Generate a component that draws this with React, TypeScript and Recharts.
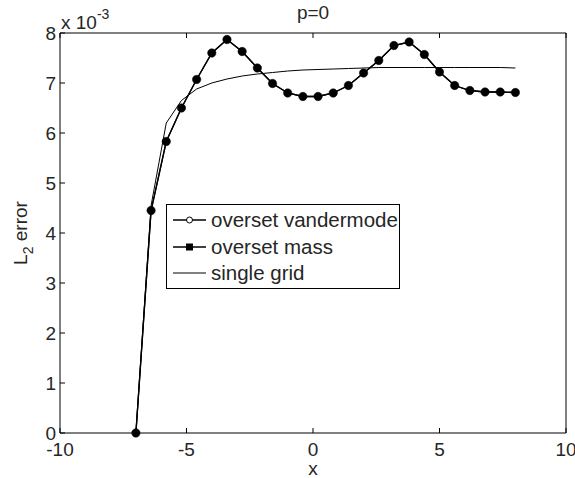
import React from "react";
import { LineChart, Line, XAxis, YAxis, Label } from "recharts";

// x positions of the samples
const xs = [-7, -6.4, -5.8, -5.2, -4.6, -4.0, -3.4, -2.8, -2.2, -1.6, -1.0, -0.4, 0.2, 0.8, 1.4, 2.0, 2.6, 3.2, 3.8, 4.4, 5.0, 5.6, 6.2, 6.8, 7.4, 8.0];
// L2 error values, in units of 1e-3
const vandermode = [0, 4.45, 5.83, 6.5, 7.07, 7.6, 7.87, 7.63, 7.3, 6.99, 6.8, 6.73, 6.73, 6.8, 6.95, 7.2, 7.45, 7.75, 7.82, 7.57, 7.22, 6.95, 6.85, 6.82, 6.82, 6.81];
const mass = [0, 4.45, 5.83, 6.5, 7.07, 7.6, 7.87, 7.63, 7.3, 6.99, 6.8, 6.73, 6.73, 6.8, 6.95, 7.2, 7.45, 7.75, 7.82, 7.57, 7.22, 6.95, 6.85, 6.82, 6.82, 6.81];
const single = [0, 4.55, 6.2, 6.65, 6.88, 7.0, 7.08, 7.14, 7.18, 7.21, 7.24, 7.26, 7.27, 7.28, 7.29, 7.3, 7.31, 7.31, 7.31, 7.31, 7.31, 7.31, 7.31, 7.31, 7.31, 7.3];

const xTicks = [-10, -5, 0, 5, 10];
const yTicks = [0, 1, 2, 3, 4, 5, 6, 7, 8];
const seriesNames = ["overset vandermode", "overset mass", "single grid"];
const title = "p=0";
const xLabel = "x";
const yLabelMain = "L";
const yLabelSub = "2";
const yLabelRest = " error";
const scaleBase = "x 10";
const scaleExp = "-3";

const data = xs.map((x, i) => ({ x, v: vandermode[i], m: mass[i], s: single[i] }));

const FONT = "'Liberation Sans', Arial, Helvetica, sans-serif";
const TXT = "#262626";
const FS = 19;
const LFS = 20.5;

const BottomTick = (p: any) => (
  <g>
    <line x1={p.x} x2={p.x} y1={p.y} y2={p.y - 5} stroke="#000" strokeWidth={1} />
    <text x={p.x} y={p.y + 23} textAnchor="middle" fontSize={FS} fontFamily={FONT} fill={TXT}>{p.payload.value}</text>
  </g>
);
const TopTick = (p: any) => (
  <line x1={p.x} x2={p.x} y1={p.y} y2={p.y + 5} stroke="#000" strokeWidth={1} />
);
const LeftTick = (p: any) => (
  <g>
    <line x1={p.x} x2={p.x + 5} y1={p.y} y2={p.y} stroke="#000" strokeWidth={1} />
    <text x={p.x - 4} y={p.y + 7} textAnchor="end" fontSize={FS} fontFamily={FONT} fill={TXT}>{p.payload.value}</text>
  </g>
);
const RightTick = (p: any) => (
  <line x1={p.x} x2={p.x - 5} y1={p.y} y2={p.y} stroke="#000" strokeWidth={1} />
);

const TopLabel = (props: any) => {
  const vb = props.viewBox || {};
  const cx = (vb.x ?? 60) + (vb.width ?? 506) / 2;
  return (
    <g fontFamily={FONT} fill={TXT}>
      <text x={cx} y={19} textAnchor="middle" fontSize={FS}>{title}</text>
      <text x={61} y={29} fontSize={FS}>
        {scaleBase}
        <tspan dy={-10} fontSize={14}>{scaleExp}</tspan>
      </text>
    </g>
  );
};

const XLab = (props: any) => {
  const vb = props.viewBox || {};
  const cx = (vb.x ?? 60) + (vb.width ?? 506) / 2;
  return (
    <text x={cx} y={475} textAnchor="middle" fontSize={FS} fontFamily={FONT} fill={TXT}>{xLabel}</text>
  );
};

const YLab = (props: any) => {
  const vb = props.viewBox || {};
  const cy = (vb.y ?? 33) + (vb.height ?? 400) / 2;
  const cx = 27;
  return (
    <text x={cx} y={cy} transform={`rotate(-90 ${cx} ${cy})`} textAnchor="middle" fontSize={FS} fontFamily={FONT} fill={TXT}>
      {yLabelMain}
      <tspan dy={6} fontSize={14}>{yLabelSub}</tspan>
      <tspan dy={-6}>{yLabelRest}</tspan>
    </text>
  );
};

const OpenDot = (p: any) => (
  <circle cx={p.cx} cy={p.cy} r={3} fill="#fff" stroke="#000" strokeWidth={1} />
);
const FilledDot = (p: any) => (
  <circle cx={p.cx} cy={p.cy} r={4.2} fill="#000" stroke="#000" strokeWidth={0.5} />
);

const LegendBox = () => {
  const rowY = [16, 43, 69];
  return (
    <div style={{ position: "absolute", left: 166, top: 204, width: 234, height: 85 }}>
      <svg width={234} height={85} style={{ display: "block" }}>
        <rect x={0.5} y={0.5} width={233} height={84} fill="#fff" stroke="#000" strokeWidth={1} />
        {seriesNames.map((n, i) => (
          <g key={n}>
            <line x1={7} x2={40} y1={rowY[i]} y2={rowY[i]} stroke="#000" strokeWidth={i === 2 ? 1 : 1.3} />
            {i === 0 && <circle cx={23.5} cy={rowY[i]} r={3} fill="#fff" stroke="#000" />}
            {i === 1 && <rect x={20} y={rowY[i] - 3.5} width={7} height={7} fill="#000" />}
            <text x={45} y={rowY[i] + 7} fontSize={LFS} fontFamily={FONT} fill={TXT}>{n}</text>
          </g>
        ))}
      </svg>
    </div>
  );
};

export default function App() {
  return (
    <div style={{ position: "absolute", left: 0, top: 0, width: 575, height: 478, background: "#fff", overflow: "hidden" }}>
      <LineChart width={575} height={478} data={data} margin={{ top: 0, right: 0, bottom: 0, left: 0 }}>
        <XAxis xAxisId="b" dataKey="x" type="number" domain={[-10, 10]} ticks={xTicks} orientation="bottom"
          height={45} tickSize={0} tickMargin={0} tickLine={false} tick={<BottomTick />} stroke="#000" interval={0}>
          <Label content={<XLab />} />
        </XAxis>
        <XAxis xAxisId="t" dataKey="x" type="number" domain={[-10, 10]} ticks={xTicks} orientation="top"
          height={33} tickSize={0} tickMargin={0} tickLine={false} tick={<TopTick />} stroke="#000" interval={0}>
          <Label content={<TopLabel />} />
        </XAxis>
        <YAxis yAxisId="l" type="number" domain={[0, 8]} ticks={yTicks} orientation="left" width={60}
          tickSize={0} tickMargin={0} tickLine={false} tick={<LeftTick />} stroke="#000" interval={0}>
          <Label content={<YLab />} />
        </YAxis>
        <YAxis yAxisId="r" type="number" domain={[0, 8]} ticks={yTicks} orientation="right" width={9}
          tickSize={0} tickMargin={0} tickLine={false} tick={<RightTick />} stroke="#000" interval={0} />
        <Line xAxisId="b" yAxisId="l" dataKey="s" name={seriesNames[2]} stroke="#000" strokeWidth={1} dot={false} isAnimationActive={false} />
        <Line xAxisId="b" yAxisId="l" dataKey="v" name={seriesNames[0]} stroke="#000" strokeWidth={1.3} dot={<OpenDot />} isAnimationActive={false} />
        <Line xAxisId="b" yAxisId="l" dataKey="m" name={seriesNames[1]} stroke="#000" strokeWidth={1.3} dot={<FilledDot />} isAnimationActive={false} />
      </LineChart>
      <LegendBox />
    </div>
  );
}
